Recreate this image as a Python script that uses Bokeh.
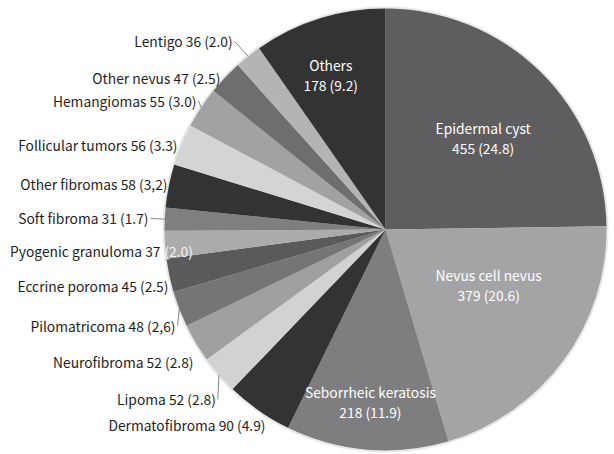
import math
from bokeh.plotting import figure
from bokeh.models import Range1d, ColumnDataSource
from bokeh.embed import file_html
from bokeh.resources import INLINE
from bokeh.core.properties import value

# ---------------- data ----------------
categories = ["Epidermal cyst", "Nevus cell nevus", "Seborrheic keratosis", "Dermatofibroma",
              "Lipoma", "Neurofibroma", "Pilomatricoma", "Eccrine poroma", "Pyogenic granuloma",
              "Soft fibroma", "Other fibromas", "Follicular tumors", "Hemangiomas",
              "Other nevus", "Lentigo", "Others"]
counts = [455, 379, 218, 90, 52, 52, 48, 45, 37, 31, 58, 56, 55, 47, 36, 178]
pct_labels = ["24.8", "20.6", "11.9", "4.9", "2.8", "2.8", "2,6", "2.5", "2.0", "1.7",
              "3,2", "3.3", "3.0", "2.5", "2.0", "9.2"]

# ---------------- styles / layout ----------------
colors = ["#5e5e60", "#a4a4a6", "#7e7e80", "#333333", "#d2d2d2", "#a0a0a2", "#757577",
          "#5a5a5c", "#ababab", "#7f7f81", "#333333", "#d4d4d4", "#a2a2a2", "#6e6e70",
          "#b4b4b4", "#333333"]
inside = [True, True, True] + [False] * 12 + [True]
# label placement: angle (deg, clockwise from top) and distance from centre (px)
label_theta = [46.8, 118.1, 185.0, 211.6, 225.0, 235.3, 245.4, 255.3, 263.5, 272.7,
               281.7, 292.0, 304.3, 312.6, 320.9, 340.5]
label_dist = [134, 117, 173, 229, 240, 233.6, 231, 224.4, 193.3, 237.3,
              222.6, 224.3, 228.8, 224.3, 242.4, 164]
leader = [False, False, False, False, True, False, True, False, False, True,
          False, False, True, False, True, False]

W, H = 614, 454
cx, cy, R = 385, H - 229, 221
FONT = "Noto Sans CJK JP"
FS = "13.8px"

total = sum(counts)
starts, ends, mids = [], [], []
acc = 0
for c in counts:
    starts.append(math.pi / 2 - 2 * math.pi * acc / total)
    mids.append(360.0 * (acc + c / 2) / total)
    acc += c
    ends.append(math.pi / 2 - 2 * math.pi * acc / total)

p = figure(width=W, height=H, output_backend="svg", toolbar_location=None,
           x_range=Range1d(0, W), y_range=Range1d(0, H),
           x_axis_location=None, y_axis_location=None, min_border=0,
           outline_line_color=None, background_fill_color="white")
p.grid.visible = False

# faint soft edge
p.circle(x=[cx], y=[cy], radius=R + 2, fill_color="#d8d8d8", fill_alpha=0.6, line_color=None)

src = ColumnDataSource(dict(start=starts, end=ends, color=colors))
p.wedge(x=cx, y=cy, radius=R, start_angle="start", end_angle="end", direction="clock",
        fill_color="color", line_color=None, source=src)

def pos(theta, d):
    t = math.radians(theta)
    return cx + d * math.sin(t), cy + d * math.cos(t)

# leader lines
lx, ly = [], []
for i in range(len(categories)):
    if leader[i]:
        x0, y0 = pos(mids[i], R)
        x1, y1 = pos(label_theta[i], label_dist[i])
        lx.append([x0, x1 + 2])
        ly.append([y0, y1])
p.multi_line(xs=lx, ys=ly, line_color="#888888", line_width=1)

# labels
ox, oy, ot = [], [], []
for i, name in enumerate(categories):
    x, y = pos(label_theta[i], label_dist[i])
    if inside[i]:
        p.text(x=[x], y=[y + 10], text=[name], text_align="center", text_baseline="middle",
               text_color="white", text_font=value(FONT), text_font_size=FS)
        p.text(x=[x], y=[y - 10], text=[f"{counts[i]} ({pct_labels[i]})"], text_align="center",
               text_baseline="middle", text_color="white", text_font=value(FONT), text_font_size=FS)
    elif name == "Pyogenic granuloma":
        p.text(x=[x - 33], y=[y], text=[f"{name} {counts[i]}"], text_align="right",
               text_baseline="middle", text_color="#1e1e1e", text_font=value(FONT), text_font_size=FS)
        p.text(x=[x - 29], y=[y], text=[f"({pct_labels[i]})"], text_align="left",
               text_baseline="middle", text_color="#f4f4f4", text_font=value(FONT), text_font_size=FS)
    else:
        ox.append(x); oy.append(y); ot.append(f"{name} {counts[i]} ({pct_labels[i]})")

p.text(x=ox, y=oy, text=ot, text_align="right", text_baseline="middle",
       text_color="#1e1e1e", text_font=value(FONT), text_font_size=FS)

open("out.html", "w").write(file_html(p, INLINE))
